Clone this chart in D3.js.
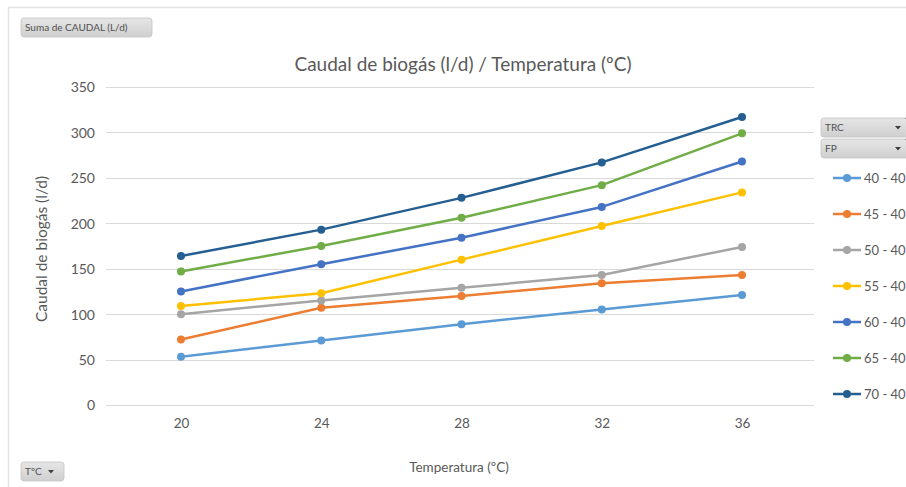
<!DOCTYPE html>
<html>
<head>
<meta charset="utf-8">
<script src="https://cdn.jsdelivr.net/npm/d3@7"></script>
<style>
  html, body { margin: 0; padding: 0; background: #fff; }
  svg { display: block; font-family: Lato, "Open Sans", sans-serif; }
</style>
</head>
<body>
<svg id="chart" width="906" height="487"></svg>
<script>
// Temperatures (ºC) on the x axis
const temperatures = [20, 24, 28, 32, 36];
// Series names (TRC - FP)
const seriesNames = ["40 - 40", "45 - 40", "50 - 40", "55 - 40", "60 - 40", "65 - 40", "70 - 40"];
// Biogas flow (l/d) per series, one value per temperature
const s40 = [53, 71, 89, 105, 121];
const s45 = [72, 107, 120, 134, 143];
const s50 = [100, 115, 129, 143, 174];
const s55 = [109, 123, 160, 197, 234];
const s60 = [125, 155, 184, 218, 268];
const s65 = [147, 175, 206, 242, 299];
const s70 = [164, 193, 228, 267, 317];
const seriesValues = [s40, s45, s50, s55, s60, s65, s70];
const seriesColors = ["#5b9bd5", "#ed7d31", "#a5a5a5", "#ffc000", "#4472c4", "#70ad47", "#255e91"];
const yTicks = [0, 50, 100, 150, 200, 250, 300, 350];

const svg = d3.select("#chart");
const textColor = "#595959";

// chart area frame
svg.append("rect").attr("x", 8.5).attr("y", 7.5).attr("width", 920).attr("height", 500)
  .attr("fill", "#fff").attr("stroke", "#e3e3e3").attr("stroke-width", 1.5);

// scales
const x = d3.scalePoint().domain(temperatures).range([181, 742]);
const y = d3.scaleLinear().domain([0, 350]).range([405, 87]);
const plotLeft = 106, plotRight = 814;

// gridlines
svg.append("g").selectAll("line").data(yTicks).join("line")
  .attr("x1", plotLeft).attr("x2", plotRight)
  .attr("y1", d => Math.round(y(d)) + 0.5).attr("y2", d => Math.round(y(d)) + 0.5)
  .attr("stroke", "#d9d9d9").attr("stroke-width", 1);

// y axis labels
const yAxis = d3.axisLeft(y).tickValues(yTicks).tickSize(0).tickPadding(0);
const gy = svg.append("g").attr("transform", "translate(95,0)").call(yAxis);
gy.select(".domain").remove();
gy.selectAll("text").attr("fill", textColor).style("font-size", "14px")
  .style("font-family", "Lato, 'Open Sans', sans-serif").attr("dy", "0.35em");

// x axis labels
const xAxis = d3.axisBottom(x).tickSize(0).tickPadding(0);
const gx = svg.append("g").attr("transform", "translate(0,418)").call(xAxis);
gx.select(".domain").remove();
gx.selectAll("text").attr("fill", textColor).style("font-size", "13.5px")
  .style("font-family", "Lato, 'Open Sans', sans-serif").attr("dy", "0.71em");

// title and axis titles
svg.append("text").attr("x", 463).attr("y", 71).attr("text-anchor", "middle")
  .attr("fill", textColor).style("font-size", "19px")
  .text("Caudal de biogás (l/d) / Temperatura (ºC)");
svg.append("text").attr("x", 459).attr("y", 472).attr("text-anchor", "middle")
  .attr("fill", textColor).style("font-size", "13.5px").text("Temperatura (ºC)");
svg.append("text").attr("transform", "translate(47,249) rotate(-90)")
  .attr("text-anchor", "middle").attr("fill", textColor).style("font-size", "15.5px")
  .text("Caudal de biogás (l/d)");

// series lines and markers
const line = d3.line().x((d, i) => x(temperatures[i])).y(d => y(d));
const series = svg.append("g").selectAll("g").data(seriesValues).join("g");
series.append("path").attr("d", d => line(d)).attr("fill", "none")
  .attr("stroke", (d, i) => seriesColors[i]).attr("stroke-width", 2.5)
  .attr("stroke-linejoin", "round");
series.each(function (vals, i) {
  d3.select(this).selectAll("circle").data(vals).join("circle")
    .attr("cx", (d, j) => x(temperatures[j])).attr("cy", d => y(d)).attr("r", 4)
    .attr("fill", seriesColors[i]);
});

// field buttons
const defs = svg.append("defs");
const grad = defs.append("linearGradient").attr("id", "btn").attr("x1", 0).attr("y1", 0).attr("x2", 0).attr("y2", 1);
grad.append("stop").attr("offset", "0%").attr("stop-color", "#e6e6e6");
grad.append("stop").attr("offset", "100%").attr("stop-color", "#cfcfcf");

function button(bx, by, w, h, label, arrow, corner) {
  const g = svg.append("g");
  g.append("rect").attr("x", bx).attr("y", by).attr("width", w).attr("height", h)
    .attr("rx", 3).attr("fill", "url(#btn)").attr("stroke", "#c4c4c4").attr("stroke-width", 0.8);
  g.append("text").attr("x", bx + 4).attr("y", by + h / 2).attr("dy", "0.35em")
    .attr("fill", "#505050").style("font-size", "10px").text(label);
  if (arrow) {
    const ax = bx + w - 13, ay = by + h / 2;
    g.append("path").attr("d", `M${ax - 3},${ay - 1.5} L${ax + 3},${ay - 1.5} L${ax},${ay + 2} Z`).attr("fill", "#404040");
  }
  if (corner) {
    g.append("path").attr("d", `M${bx + w - 6},${by} L${bx + w},${by} L${bx + w},${by + 6} Z`).attr("fill", "#404040");
  }
}
button(21, 18, 131, 19, "Suma de CAUDAL (L/d)", false, false);
button(21, 462, 43, 19, "TºC", true, false);
button(821, 118, 90, 19, "TRC", true, true);
button(821, 139, 90, 19, "FP", true, true);

// legend
const legend = svg.append("g").selectAll("g").data(seriesNames).join("g")
  .attr("transform", (d, i) => `translate(833,${178 + i * 36})`);
legend.append("line").attr("x1", 0).attr("x2", 28).attr("y1", 0).attr("y2", 0)
  .attr("stroke", (d, i) => seriesColors[i]).attr("stroke-width", 2.5);
legend.append("circle").attr("cx", 14).attr("cy", 0).attr("r", 4).attr("fill", (d, i) => seriesColors[i]);
legend.append("text").attr("x", 31).attr("y", 0).attr("dy", "0.35em")
  .attr("fill", textColor).style("font-size", "13px").text(d => d);
</script>
</body>
</html>
